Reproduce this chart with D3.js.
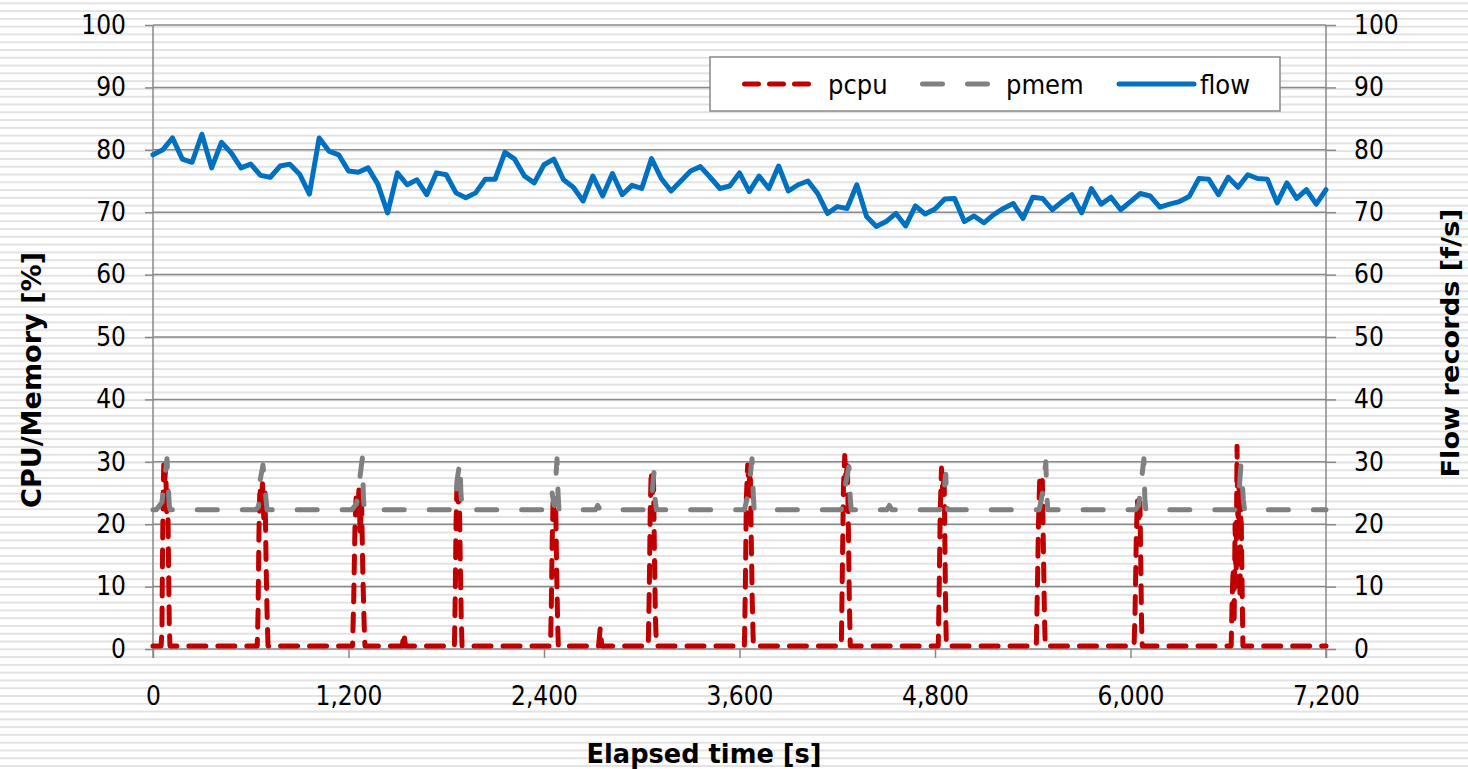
<!DOCTYPE html>
<html><head><meta charset="utf-8">
<script src="https://cdn.jsdelivr.net/npm/d3@7"></script>
<style>
html,body{margin:0;padding:0;background:#fff;}
svg{display:block;}
</style></head>
<body>
<script>
// ---------------- DATA ----------------
const seriesNames = ["pcpu", "pmem", "flow"];
const xTicks = [0, 1200, 2400, 3600, 4800, 6000, 7200];
const yTicks = [0, 10, 20, 30, 40, 50, 60, 70, 80, 90, 100];

// [elapsed s, %CPU]
const pcpu = [
 [0,0.5],[50,0.5],[55,3],[58,14],[62,24],[66,29.5],[72,27],[78,29],[84,22],[90,26],[96,12],[100,4],[104,0.5],
 [640,0.5],[645,6],[650,18],[656,26],[664,23],[672,26.5],[680,21],[688,25],[694,14],[700,6],[706,0.5],
 [1225,0.5],[1232,8],[1240,20],[1248,25],[1256,22],[1264,25.5],[1272,18],[1280,24],[1288,12],[1296,4],[1301,0.5],
 [1530,0.5],[1540,2.5],[1550,0.5],
 [1850,0.5],[1855,8],[1860,20],[1865,25.5],[1872,23],[1880,25],[1886,14],[1892,5],[1897,0.5],
 [2440,0.5],[2445,7],[2450,17],[2456,24],[2464,21],[2472,23],[2478,12],[2484,4],[2488,0.5],
 [2735,0.5],[2745,3.3],[2755,0.5],
 [3040,0.5],[3046,9],[3052,22],[3058,28.5],[3066,25],[3072,27.5],[3078,15],[3084,5],[3090,0.5],
 [3630,0.5],[3636,10],[3642,24],[3650,29.5],[3658,26],[3666,29],[3672,18],[3678,8],[3685,0.5],
 [4225,0.5],[4231,12],[4238,26],[4246,31],[4254,27],[4262,30],[4268,20],[4274,8],[4280,0.5],
 [4820,0.5],[4826,10],[4832,22],[4840,29],[4848,25],[4856,28],[4862,14],[4866,5],[4870,0.5],
 [5422,0.5],[5428,9],[5435,20],[5443,27.5],[5451,24],[5459,27],[5466,15],[5472,5],[5477,0.5],
 [6022,0.5],[6028,6],[6035,17],[6042,24],[6050,21],[6058,23.5],[6064,12],[6068,4],[6072,0.5],
 [6618,0.5],[6624,8],[6630,13],[6636,4],[6642,20],[6648,10],[6654,32.5],[6660,18],[6666,28],[6672,8],[6678,24],[6684,12],[6690,0.5],
 [7200,0.5]
];

// [elapsed s, %MEM]
const pmem = [
 [0,22.3],[20,22.3],[55,23.5],[70,27],[86,30.5],[92,27],[100,23],[106,22.3],
 [630,22.3],[648,22.8],[656,26.8],[675,29.5],[688,25.5],[700,22.3],
 [1220,22.3],[1250,23.3],[1285,30.6],[1292,24],[1298,22.3],
 [1840,22.3],[1858,23.5],[1866,27],[1884,30],[1890,25],[1898,22.3],
 [2435,22.3],[2450,25],[2462,23],[2480,30.5],[2486,25],[2492,22.3],
 [2715,22.3],[2730,23],[2745,22.3],
 [3040,22.3],[3060,24],[3075,28.3],[3082,24],[3090,22.3],
 [3630,22.3],[3655,25],[3677,30.5],[3684,25],[3690,22.3],
 [4225,22.3],[4248,26],[4272,29.2],[4280,24],[4286,22.3],
 [4505,22.3],[4520,23],[4535,22.3],
 [4830,22.3],[4850,24],[4866,28],[4872,24],[4878,22.3],
 [5440,22.3],[5460,25],[5480,30],[5486,25],[5492,22.3],
 [6030,22.3],[6050,23],[6082,30.5],[6088,24],[6094,22.3],
 [6640,22.3],[6660,23],[6678,29.5],[6686,27],[6692,24],[6700,22.3],
 [7200,22.3]
];

// [elapsed s, flow records f/s]
const flow = [
 [0,79.2],[60,80.0],[120,81.9],[180,78.5],[240,78.0],[300,82.5],[360,77.1],[420,81.2],[480,79.5],[540,77.1],
 [600,77.7],[660,75.9],[720,75.6],[780,77.4],[840,77.7],[900,76.1],[960,72.9],[1020,81.9],[1080,79.8],[1140,79.2],
 [1200,76.6],[1260,76.4],[1320,77.1],[1380,74.5],[1440,69.9],[1500,76.3],[1560,74.4],[1620,75.2],[1680,72.8],[1740,76.3],
 [1800,76.0],[1860,73.1],[1920,72.3],[1980,73.1],[2040,75.3],[2100,75.3],[2160,79.6],[2220,78.5],[2280,75.8],[2340,74.7],
 [2400,77.6],[2460,78.5],[2520,75.2],[2580,74.0],[2640,71.8],[2700,75.8],[2760,72.6],[2820,76.2],[2880,72.8],[2940,74.3],
 [3000,73.8],[3060,78.6],[3120,75.4],[3180,73.4],[3240,75.0],[3300,76.6],[3360,77.3],[3420,75.6],[3480,73.8],[3540,74.2],
 [3600,76.3],[3660,73.3],[3720,75.8],[3780,73.8],[3840,77.4],[3900,73.4],[3960,74.4],[4020,75.0],[4080,73.0],[4140,69.8],
 [4200,70.9],[4260,70.6],[4320,74.4],[4380,69.3],[4440,67.7],[4500,68.5],[4560,69.8],[4620,67.8],[4680,71.0],[4740,69.7],
 [4800,70.5],[4860,72.1],[4920,72.2],[4980,68.5],[5040,69.4],[5100,68.3],[5160,69.6],[5220,70.6],[5280,71.4],[5340,69.0],
 [5400,72.4],[5460,72.2],[5520,70.4],[5580,71.7],[5640,72.8],[5700,69.9],[5760,73.8],[5820,71.3],[5880,72.4],[5940,70.4],
 [6000,71.7],[6060,73.0],[6120,72.6],[6180,70.8],[6240,71.3],[6300,71.7],[6360,72.5],[6420,75.4],[6480,75.3],[6540,72.8],
 [6600,75.6],[6660,74.0],[6720,76.0],[6780,75.4],[6840,75.3],[6900,71.5],[6960,74.7],[7020,72.2],[7080,73.6],[7140,71.3],
 [7200,73.6]
];

// ---------------- CHART ----------------
const W = 1468, H = 769;
const svg = d3.select("body").append("svg").attr("width", W).attr("height", H);

const tickFont = "'DejaVu Sans Condensed', 'Liberation Sans', Arial, sans-serif";
const titleFont = "'DejaVu Sans', Verdana, sans-serif";
const gridCol = "#898989";

// striped background
svg.append("rect").attr("width", W).attr("height", H).attr("fill", "#fff");
const stripes = d3.range(0, 99);
svg.append("g").selectAll("rect").data(stripes).join("rect")
  .attr("x", 0).attr("width", W)
  .attr("y", i => 2.3 + i * 7.783).attr("height", 2)
  .attr("fill", "#e3e3e3");

const x = d3.scaleLinear().domain([0, 7200]).range([153, 1326]);
const y = d3.scaleLinear().domain([0, 100]).range([649, 25]);
const y2 = d3.scaleLinear().domain([0, 100]).range([649, 25]);

// gridlines
svg.append("g").selectAll("line").data(yTicks).join("line")
  .attr("x1", 153).attr("x2", 1326)
  .attr("y1", d => y(d)).attr("y2", d => y(d))
  .attr("stroke", gridCol).attr("stroke-width", 1.5);

// axes
const axL = svg.append("g").attr("transform", "translate(153,0)")
  .call(d3.axisLeft(y).tickValues(yTicks).tickSize(8).tickPadding(19));
const axR = svg.append("g").attr("transform", "translate(1326,0)")
  .call(d3.axisRight(y2).tickValues(yTicks).tickSize(10).tickPadding(18));
const axB = svg.append("g").attr("transform", "translate(0,649)")
  .call(d3.axisBottom(x).tickValues(xTicks).tickSize(9).tickPadding(29).tickFormat(d3.format(",")));
[axL, axR, axB].forEach(a => {
  a.select(".domain").remove();
  a.selectAll(".tick line").attr("stroke", gridCol).attr("stroke-width", 1.5);
  a.selectAll(".tick text").attr("fill", "#000").style("font-family", tickFont).style("font-size", "26px");
});
// vertical axis lines
svg.append("g").selectAll("line").data([0, 7200]).join("line")
  .attr("x1", d => x(d)).attr("x2", d => x(d))
  .attr("y1", y(100)).attr("y2", 658)
  .attr("stroke", gridCol).attr("stroke-width", 1.5);

// series
const line = d3.line().x(d => x(d[0])).y(d => y(d[1]));
const line2 = d3.line().x(d => x(d[0])).y(d => y2(d[1]));

svg.append("path").datum(pcpu).attr("d", line)
  .attr("fill", "none").attr("stroke", "#C00000").attr("stroke-width", 5)
  .attr("stroke-dasharray", "17,12").attr("stroke-linecap", "round").attr("stroke-linejoin", "round");
svg.append("path").datum(pmem).attr("d", line)
  .attr("fill", "none").attr("stroke", "#808080").attr("stroke-width", 5)
  .attr("stroke-dasharray", "20,25").attr("stroke-linecap", "round").attr("stroke-linejoin", "round");
svg.append("path").datum(flow).attr("d", line2)
  .attr("fill", "none").attr("stroke", "#0070C0").attr("stroke-width", 5)
  .attr("stroke-linecap", "round").attr("stroke-linejoin", "round");

// legend
const lg = svg.append("g");
lg.append("rect").attr("x", 710).attr("y", 57).attr("width", 570).attr("height", 54)
  .attr("fill", "#fff").attr("stroke", "#888").attr("stroke-width", 1.5);
const legendItems = [
  {name: seriesNames[0], x1: 744.5, x2: 809.5, tx: 828, col: "#C00000", dash: "14,11", w: 5},
  {name: seriesNames[1], x1: 922.5, x2: 987.5, tx: 1006, col: "#808080", dash: "20,25", w: 5},
  {name: seriesNames[2], x1: 1119, x2: 1194, tx: 1200, col: "#0070C0", dash: null, w: 5}
];
legendItems.forEach(it => {
  lg.append("line").attr("x1", it.x1).attr("x2", it.x2).attr("y1", 84).attr("y2", 84)
    .attr("stroke", it.col).attr("stroke-width", it.w).attr("stroke-linecap", "round")
    .attr("stroke-dasharray", it.dash);
  lg.append("text").attr("x", it.tx).attr("y", 94).text(it.name)
    .style("font-family", tickFont).style("font-size", "27px").attr("fill", "#000");
});

// titles
svg.append("text").attr("x", 704).attr("y", 763).attr("text-anchor", "middle")
  .attr("textLength", 235).attr("lengthAdjust", "spacingAndGlyphs")
  .style("font-family", titleFont).style("font-weight", "bold").style("font-size", "26px")
  .text("Elapsed time [s]");
svg.append("text").attr("transform", "translate(41,380) rotate(-90)").attr("text-anchor", "middle")
  .attr("textLength", 256).attr("lengthAdjust", "spacingAndGlyphs")
  .style("font-family", titleFont).style("font-weight", "bold").style("font-size", "26px")
  .text("CPU/Memory [%]");
svg.append("text").attr("transform", "translate(1459,343) rotate(-90)").attr("text-anchor", "middle")
  .attr("textLength", 269).attr("lengthAdjust", "spacingAndGlyphs")
  .style("font-family", titleFont).style("font-weight", "bold").style("font-size", "25px")
  .text("Flow records [f/s]");
</script>
</body></html>
